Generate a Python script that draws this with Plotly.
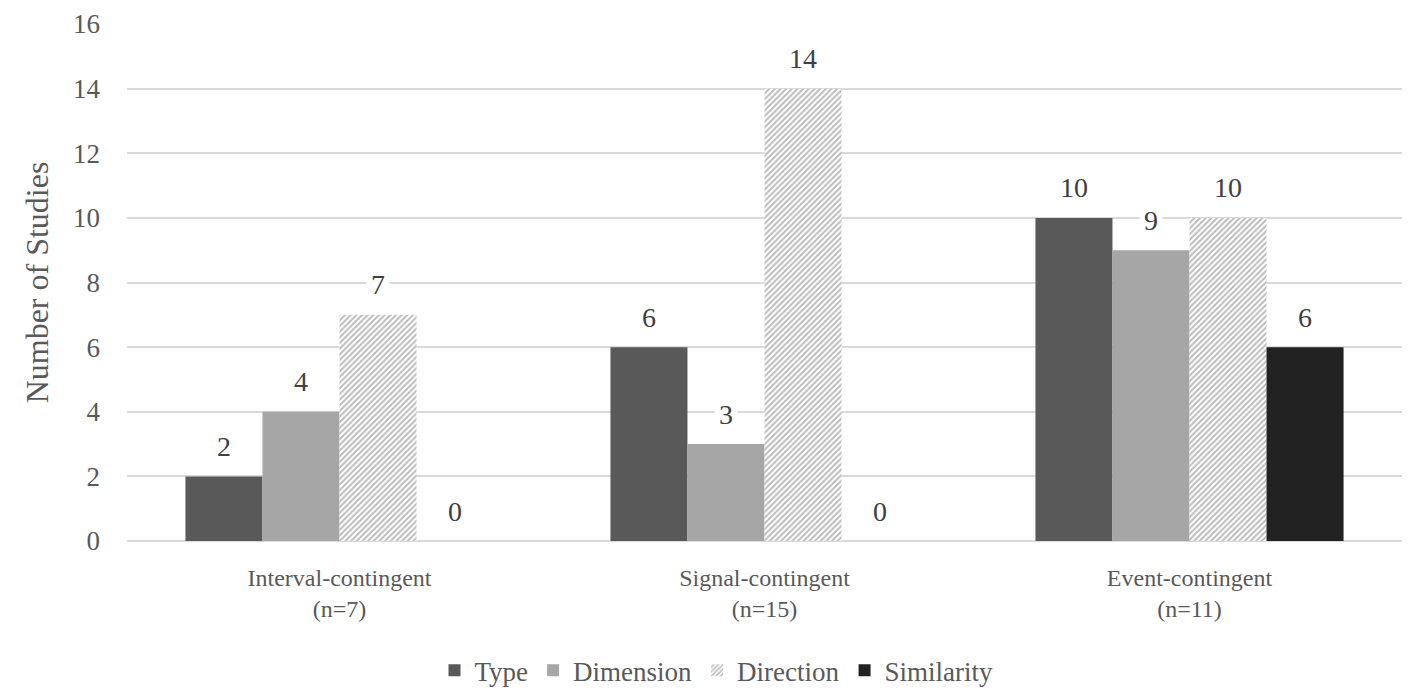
import plotly.graph_objects as go

categories = ["Interval-contingent<br>(n=7)", "Signal-contingent<br>(n=15)", "Event-contingent<br>(n=11)"]
series_names = ["Type", "Dimension", "Direction", "Similarity"]
type_vals = [2, 6, 10]
dimension_vals = [4, 3, 9]
direction_vals = [7, 14, 10]
similarity_vals = [0, 0, 6]
y_ticks = [0, 2, 4, 6, 8, 10, 12, 14, 16]

FONT = "Liberation Serif, Times New Roman, serif"
TXT = "#404040"
AX = "#595959"

# the page body adds an 8px offset, margins compensate for it
L, R, T, B = 119, 23, 16, 161
W, H = 1417, 694
BARGAP = 0.275

fig = go.Figure()
markers = [
    dict(color="#595959", line=dict(width=0)),
    dict(color="#a6a6a6", line=dict(width=0)),
    dict(color="white", line=dict(width=0),
         pattern=dict(shape="/", fgcolor="#7a7a7a", bgcolor="white", size=4, solidity=0.5)),
    dict(color="#222222", line=dict(width=0)),
]
all_vals = [type_vals, dimension_vals, direction_vals, similarity_vals]
for name, vals, mk in zip(series_names, all_vals, markers):
    fig.add_trace(go.Bar(x=categories, y=vals, name=name, marker=mk, hoverinfo="x+y+name"))

# value labels with a white box, as in the original
n = len(series_names)
cat_px = (W - L - R) / len(categories)
bar_px = cat_px * (1 - BARGAP) / n
for i, vals in enumerate(all_vals):
    for cat, v in zip(categories, vals):
        fig.add_annotation(x=cat, y=v, xref="x", yref="y", text=str(v), showarrow=False,
                           xshift=(i - (n - 1) / 2) * bar_px, yshift=30, yanchor="middle",
                           bgcolor="white", borderpad=4,
                           font=dict(family=FONT, size=28, color=TXT))

fig.update_layout(
    width=W, height=H,
    barmode="group", bargap=BARGAP, bargroupgap=0,
    plot_bgcolor="white", paper_bgcolor="white",
    margin=dict(l=L, r=R, t=T, b=B),
    font=dict(family=FONT, size=24, color=TXT),
    legend=dict(orientation="h", x=0.5, xanchor="center", xref="container",
                y=0.045, yanchor="middle", yref="container",
                font=dict(family=FONT, size=27, color=AX), traceorder="normal"),
    yaxis=dict(range=[0, 16], tickvals=y_ticks, gridcolor="#d9d9d9", gridwidth=1.5,
               zeroline=True, zerolinecolor="#d9d9d9", zerolinewidth=1.5,
               tickfont=dict(family=FONT, size=27, color=AX), ticklabelstandoff=26,
               title=dict(text="Number of Studies", font=dict(family=FONT, size=32, color=AX), standoff=14),
               ticks="", automargin=False),
    xaxis=dict(tickfont=dict(family=FONT, size=24, color=AX), showline=False, ticks="",
               ticklabelstandoff=20, automargin=False),
)

fig.write_html("out.html")
